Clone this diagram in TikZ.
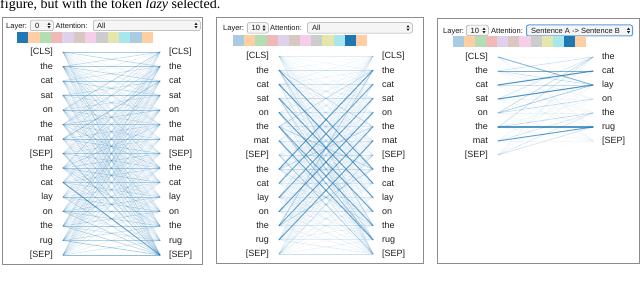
\documentclass[tikz,border=0pt]{standalone}
\usepackage{fontspec}
\setmainfont{Liberation Serif}
\setsansfont{Liberation Sans}
\usetikzlibrary{calc}
\definecolor{t0}{HTML}{1F77B4}
\definecolor{t1}{HTML}{FF7F0E}
\definecolor{t2}{HTML}{2CA02C}
\definecolor{t3}{HTML}{D62728}
\definecolor{t4}{HTML}{9467BD}
\definecolor{t5}{HTML}{8C564B}
\definecolor{t6}{HTML}{E377C2}
\definecolor{t7}{HTML}{7F7F7F}
\definecolor{t8}{HTML}{BCBD22}
\definecolor{t9}{HTML}{17BECF}
\colorlet{f0}{t0!35!black!8!white}
\colorlet{f0}{t0!38!white}
\colorlet{f1}{t1!38!white}
\colorlet{f2}{t2!36!white}
\colorlet{f3}{t3!33!white}
\colorlet{f4}{t4!30!white}
\colorlet{f5}{t5!33!white}
\colorlet{f6}{t6!36!white}
\colorlet{f7}{t7!40!white}
\colorlet{f8}{t8!38!white}
\colorlet{f9}{t9!38!white}
\definecolor{focus}{HTML}{5B9DD9}
\newcommand\updownat[1]{%
  \fill[black!85] ($(#1)+(-1.5,-0.7)$) -- ($(#1)+(1.5,-0.7)$) -- ($(#1)+(0,-2.9)$) -- cycle;
  \fill[black!85] ($(#1)+(-1.5,0.7)$) -- ($(#1)+(1.5,0.7)$) -- ($(#1)+(0,2.9)$) -- cycle;}
\tikzset{
  x=1pt, y=-1pt,
  panel/.style={draw=black!45, line width=1pt},
  tokfont/.style={font=\sffamily\fontsize{9}{9}\selectfont, text=black!88, text height=7.5pt, text depth=1.5pt, inner ysep=0pt},
  tokl/.style={tokfont, anchor=east, inner xsep=10pt},
  tokr/.style={tokfont, anchor=west, inner xsep=9pt},
  lbl/.style={anchor=base west, inner sep=0pt, font=\sffamily\fontsize{7.5}{8}\selectfont, text=black!90},
  ddbox/.style={draw=black!35, fill=black!4, rounded corners=2pt, line width=0.5pt, inner sep=0pt, anchor=west, minimum height=10.5pt},
  attn/.style={draw=t0, line cap=round},
}
\def\wa{{0,1,2,3,4,1,6,7,1,2,10,4,1,13,7}}
\begin{document}
\begin{tikzpicture}
\useasboundingbox (0,0) rectangle (640,283);
\pgfmathsetseed{11}
\node[font=\fontsize{14}{14}\selectfont, anchor=base west, inner sep=0pt] (cap) at (0,8.5) {figure, but with the token \textit{lazy} selected.};

% ================= Panel 1 =================
\draw[panel] (2.5,18) rectangle (202.5,265);
\node[lbl] (pa-lay) at (6,28.5) {Layer:};
\node[ddbox, minimum width=23pt] (pa-ly) at (30,25.5) {};
\node[lbl] (pa-lyv) at (35,28.5) {0};
\coordinate (pa-lya) at (49,25.5); \updownat{pa-lya}
\node[lbl] (pa-att) at (55.5,28.5) {Attention:};
\node[ddbox, minimum width=107pt] (pa-at) at (93,25.5) {};
\node[lbl] (pa-atv) at (97,28.5) {All};
\coordinate (pa-ata) at (196,25.5); \updownat{pa-ata}
\foreach \c [count=\k from 0] in {t0,f1,f2,f3,f4,f5,f6,f7,f8,f9,f0,f1}
  \fill[\c] ({17+\k*11.33},32) rectangle ++(11.33,11);
\foreach \t [count=\i from 0] in {{[CLS]},the,cat,sat,on,the,mat,{[SEP]},the,cat,lay,on,the,rug,{[SEP]}}{
  \node[tokl] (pa-l\i) at (63,{52+14.5*\i}) {\t};
  \node[tokr] (pa-r\i) at (160,{52+14.5*\i}) {\t};
}
\foreach \i in {0,...,14}{
  \foreach \j in {0,...,14}{
    \pgfmathsetmacro\wi{\wa[\i]}
    \pgfmathsetmacro\wj{\wa[\j]}
    \pgfmathsetmacro\op{min(0.85, 0.05+0.11*rnd + (\i==\j)*0.26 + (abs(\i-\j)==1)*0.13 + (\j==14)*0.12 + (\wi==\wj)*(\i!=\j)*0.11 + (\i==9)*(\j==14)*0.4 + (\i==6)*(\j==2)*0.3 + (\i==4)*(\j==0)*0.2)}
    \pgfmathsetmacro\lw{0.55+0.6*\op}
    \draw[attn, opacity=\op, line width=\lw pt] (pa-l\i.east) -- (pa-r\j.west);
  }
}

% ================= Panel 2 =================
\draw[panel] (216,18) rectangle (423,264);
\node[lbl] (pb-lay) at (223,31) {Layer:};
\node[ddbox, minimum width=21pt] (pb-ly) at (247,28) {};
\node[lbl] (pb-lyv) at (251.5,31) {10};
\coordinate (pb-lya) at (264,28); \updownat{pb-lya}
\node[lbl] (pb-att) at (270,31) {Attention:};
\node[ddbox, minimum width=105pt] (pb-at) at (307,28) {};
\node[lbl] (pb-atv) at (312,31) {All};
\coordinate (pb-ata) at (408,28); \updownat{pb-ata}
\foreach \c [count=\k from 0] in {f0,f1,f2,f3,f4,f5,f6,f7,f8,f9,t0,f1}
  \fill[\c] ({233+\k*11.17},35) rectangle ++(11.17,11);
\foreach \t [count=\i from 0] in {{[CLS]},the,cat,sat,on,the,mat,{[SEP]},the,cat,lay,on,the,rug,{[SEP]}}{
  \node[tokl] (pb-l\i) at (279,{56+14.14*\i}) {\t};
  \node[tokr] (pb-r\i) at (373,{56+14.14*\i}) {\t};
}
\foreach \i in {0,...,14}{
  \foreach \j in {0,...,14}{
    \pgfmathsetmacro\wi{\wa[\i]}
    \pgfmathsetmacro\wj{\wa[\j]}
    \pgfmathsetmacro\sa{(\j==\i+7)*(\i>0)*(\i<7) + (\i==\j+7)*(\j>0)*(\j<7)}
    \pgfmathsetmacro\sb{(\wi==\wj)*(\i!=\j)*(1-\sa)}
    \pgfmathsetmacro\op{min(0.8, 0.025+0.09*rnd + (\i==\j)*0.1 + 0.58*\sa + 0.2*\sb + (\j==14)*0.05 + (\i==5)*(\j==13)*0.35 + (\i==3)*(\j==13)*0.15)}
    \pgfmathsetmacro\lw{0.55+0.7*\op}
    \draw[attn, opacity=\op, line width=\lw pt] (pb-l\i.east) -- (pb-r\j.west);
  }
}

% ================= Panel 3 =================
\draw[panel] (437,19) rectangle (639,264);
\node[lbl] (pc-lay) at (443,33.5) {Layer:};
\node[ddbox, minimum width=22pt] (pc-ly) at (466,30.5) {};
\node[lbl] (pc-lyv) at (470.5,33.5) {10};
\coordinate (pc-lya) at (484,30.5); \updownat{pc-lya}
\node[lbl] (pc-att) at (491,33.5) {Attention:};
\node[ddbox, draw=focus, line width=1pt, minimum width=106pt, minimum height=11pt] (pc-at) at (526,30.5) {};
\node[lbl] (pc-atv) at (531,33.5) {Sentence A -> Sentence B};
\coordinate (pc-ata) at (628.5,30.5); \updownat{pc-ata}
\foreach \c [count=\k from 0] in {f0,f1,f2,f3,f4,f5,f6,f7,f8,f9,t0,f1}
  \fill[\c] ({453+\k*11.08},36) rectangle ++(11.08,11);
\foreach \t [count=\i from 0] in {{[CLS]},the,cat,sat,on,the,mat,{[SEP]}}
  \node[tokl] (pc-l\i) at (498,{57+14*\i}) {\t};
\foreach \t [count=\i from 0] in {the,cat,lay,on,the,rug,{[SEP]}}
  \node[tokr] (pc-r\i) at (593,{57+14*\i}) {\t};
\foreach \i in {0,...,7}{
  \foreach \j in {0,...,6}{
    \pgfmathsetmacro\op{0.02+0.07*rnd}
    \draw[attn, opacity=\op, line width=0.6pt] (pc-l\i.east) -- (pc-r\j.west);
  }
}
\foreach \a/\b/\o in {0/2/0.5, 1/1/0.55, 1/0/0.15, 2/1/0.75, 3/2/0.75, 4/2/0.3, 4/0/0.2, 5/5/0.75, 6/5/0.65, 5/4/0.2, 7/5/0.15, 7/4/0.12, 3/0/0.15, 5/0/0.15, 2/2/0.2, 1/2/0.2, 4/3/0.18, 6/4/0.15}{
  \pgfmathsetmacro\lw{0.6+0.7*\o}
  \draw[attn, opacity=\o, line width=\lw pt] (pc-l\a.east) -- (pc-r\b.west);
}
\end{tikzpicture}
\end{document}
